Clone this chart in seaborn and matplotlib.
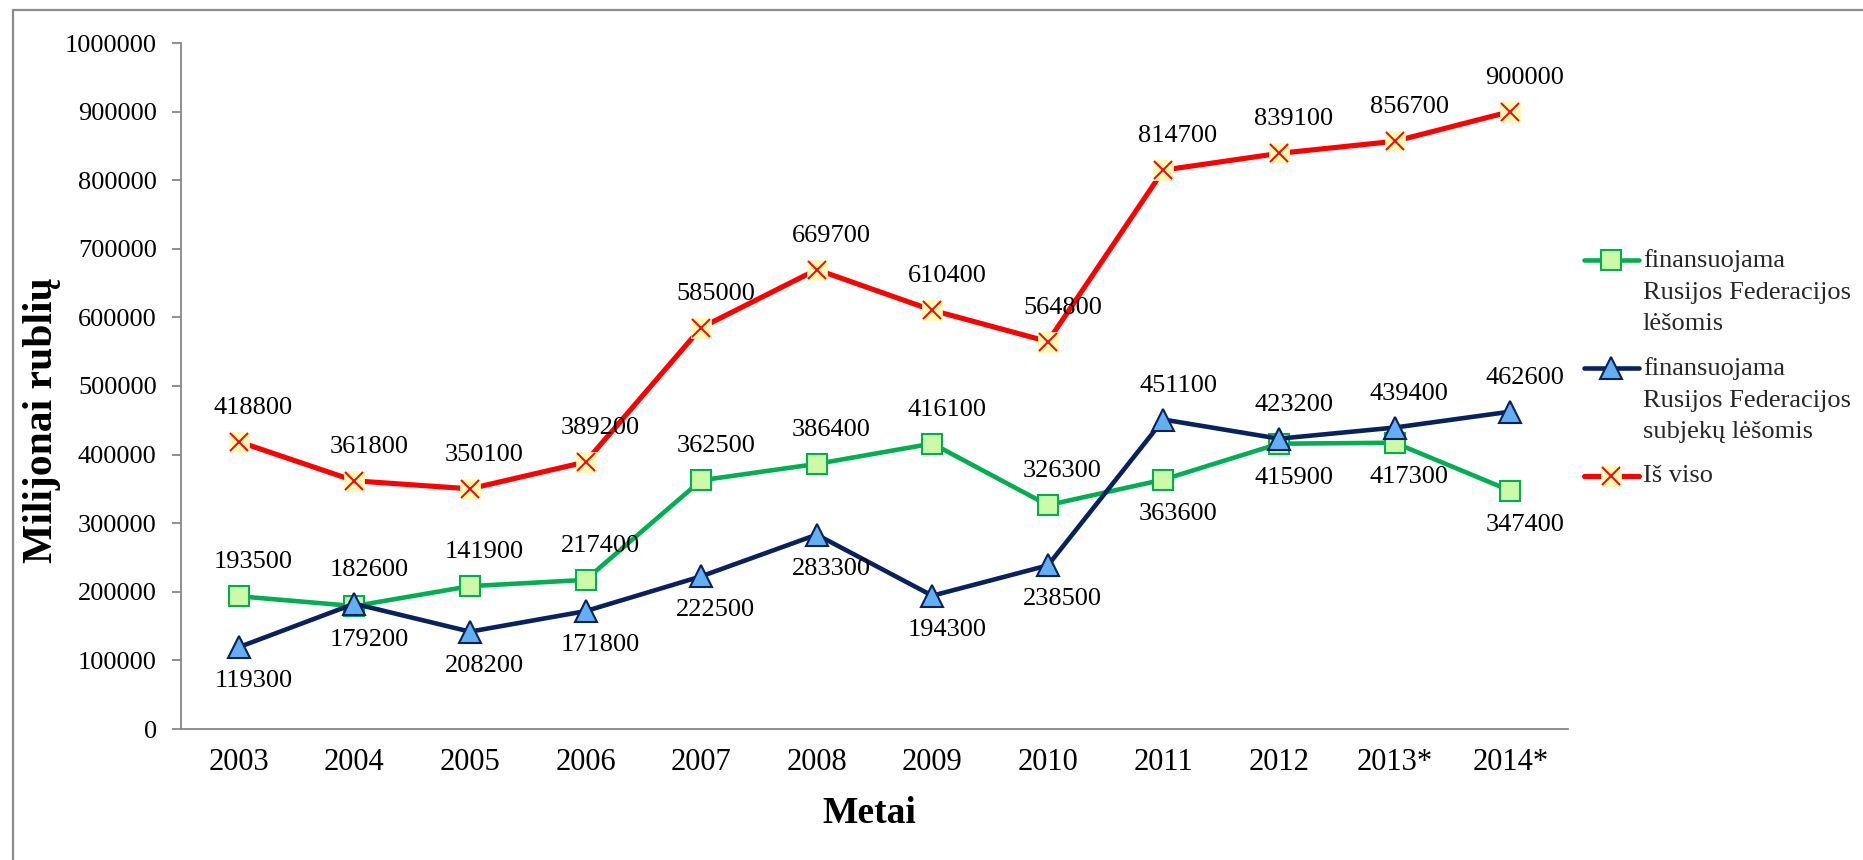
import matplotlib
matplotlib.use("Agg")
import matplotlib.pyplot as plt
import seaborn as sns
import pandas as pd
from matplotlib.legend_handler import HandlerTuple
from matplotlib.patches import Rectangle

# ---------------- data ----------------
years = ["2003", "2004", "2005", "2006", "2007", "2008", "2009", "2010",
         "2011", "2012", "2013*", "2014*"]
federal = [193500, 179200, 208200, 217400, 362500, 386400, 416100, 326300,
           363600, 415900, 417300, 347400]
regional = [119300, 182600, 141900, 171800, 222500, 283300, 194300, 238500,
            451100, 423200, 439400, 462600]
total = [418800, 361800, 350100, 389200, 585000, 669700, 610400, 564800,
         814700, 839100, 856700, 900000]
# data labels as printed in the source chart
federal_labels = ["193500", "179200", "141900", "217400", "362500", "386400",
                  "416100", "326300", "363600", "415900", "417300", "347400"]
regional_labels = ["119300", "182600", "208200", "171800", "222500", "283300",
                   "194300", "238500", "451100", "423200", "439400", "462600"]
total_labels = [str(v) for v in total]
series_names = ["finansuojama\nRusijos Federacijos\nlėšomis",
                "finansuojama\nRusijos Federacijos\nsubjekų lėšomis",
                "Iš viso"]
yticks = list(range(0, 1000001, 100000))

# ---------------- style ----------------
sns.set_theme(style="white")
plt.rcParams["font.family"] = ["Liberation Serif", "DejaVu Serif"]

W, H = 1863, 860
fig = plt.figure(figsize=(W / 100, H / 100), dpi=100)
ax = fig.add_axes([181 / W, 1 - 729 / H, (1568 - 181) / W, (729 - 43) / H])

GREEN, GREEN_FACE = "#00B050", "#CCFAA6"
NAVY, BLUE_FACE = "#0A2160", "#62B0F2"
RED, YELLOW = "#FF0000", "#FFFBB5"

df = pd.DataFrame({"year": years, "federal": federal,
                   "regional": regional, "total": total})

sns.lineplot(data=df, x="year", y="federal", ax=ax, sort=False, errorbar=None,
             color=GREEN, lw=3.3, marker="s", markersize=14,
             markerfacecolor=GREEN_FACE, markeredgecolor=GREEN,
             markeredgewidth=1.5, zorder=3)
h_green = ax.lines[-1]
sns.lineplot(data=df, x="year", y="regional", ax=ax, sort=False, errorbar=None,
             color=NAVY, lw=3.3, marker="^", markersize=16,
             markerfacecolor=BLUE_FACE, markeredgecolor=NAVY,
             markeredgewidth=1.5, zorder=4)
h_blue = ax.lines[-1]
sns.lineplot(data=df, x="year", y="total", ax=ax, sort=False, errorbar=None,
             color=RED, lw=3.7, marker="s", markersize=15,
             markerfacecolor=YELLOW, markeredgecolor=YELLOW,
             markeredgewidth=0.5, zorder=5)
h_red = ax.lines[-1]
sns.lineplot(data=df, x="year", y="total", ax=ax, sort=False, errorbar=None,
             color=RED, lw=0, marker="x", markersize=13,
             markeredgecolor=RED, markeredgewidth=1.4, zorder=6)
h_redx = ax.lines[-1]

# ---------------- data labels ----------------
lab_kw = dict(textcoords="offset points", ha="center", va="center",
              fontsize=19, color="black", zorder=7)
DX, DY = 10.5, 24.5
for i in range(len(years)):
    ax.annotate(total_labels[i], (i, total[i]), xytext=(DX, DY), **lab_kw)
    g_up = federal[i] >= regional[i]
    ax.annotate(federal_labels[i], (i, federal[i]),
                xytext=(DX, DY if g_up else -DY), **lab_kw)
    ax.annotate(regional_labels[i], (i, regional[i]),
                xytext=(DX, -DY if g_up else DY), **lab_kw)

# ---------------- axes ----------------
ax.set_xlim(-0.5, len(years) - 0.5)
ax.set_ylim(0, 1000000)
ax.set_yticks(yticks)
ax.set_yticklabels([str(t) for t in yticks])
sns.despine(ax=ax)
for s in ("left", "bottom"):
    ax.spines[s].set_color("#878787")
    ax.spines[s].set_linewidth(1.3)
ax.tick_params(axis="y", which="major", left=True, length=6.5, width=1.3,
               color="#878787", labelsize=19, pad=11, labelcolor="black")
ax.tick_params(axis="x", which="major", bottom=False, length=0,
               labelsize=22, pad=14, labelcolor="black")
ax.grid(False)

ax.set_xlabel("Metai", fontsize=27, fontweight="bold", color="black")
ax.set_ylabel("Milijonai rublių", fontsize=30, fontweight="bold", color="black")
ax.xaxis.set_label_coords(0.496, -0.0977)
ax.yaxis.set_label_coords(-0.0865, 0.45)

# ---------------- legend ----------------
leg = fig.legend([h_green, h_blue, (h_red, h_redx)], series_names,
                 handler_map={tuple: HandlerTuple(ndivide=1)},
                 loc="upper left", bbox_to_anchor=(1584 / W, 1 - 249 / H),
                 frameon=False, fontsize=19, borderpad=0, borderaxespad=0,
                 handlelength=2.08, handletextpad=0.15, labelspacing=0.84,
                 handleheight=1.1)
for t in leg.get_texts():
    t.set_linespacing(1.56)
for col in leg._legend_handle_box.get_children():
    for entry in col.get_children():
        entry.align = "top"

# outer chart border (top and left edges visible)
fig.add_artist(Rectangle((13 / W, -0.5), 2, 0.5 + (1 - 10 / H),
                         transform=fig.transFigure, fill=False,
                         edgecolor="#8C8C8C", lw=1.6))

fig.savefig("out.png", dpi=100)
